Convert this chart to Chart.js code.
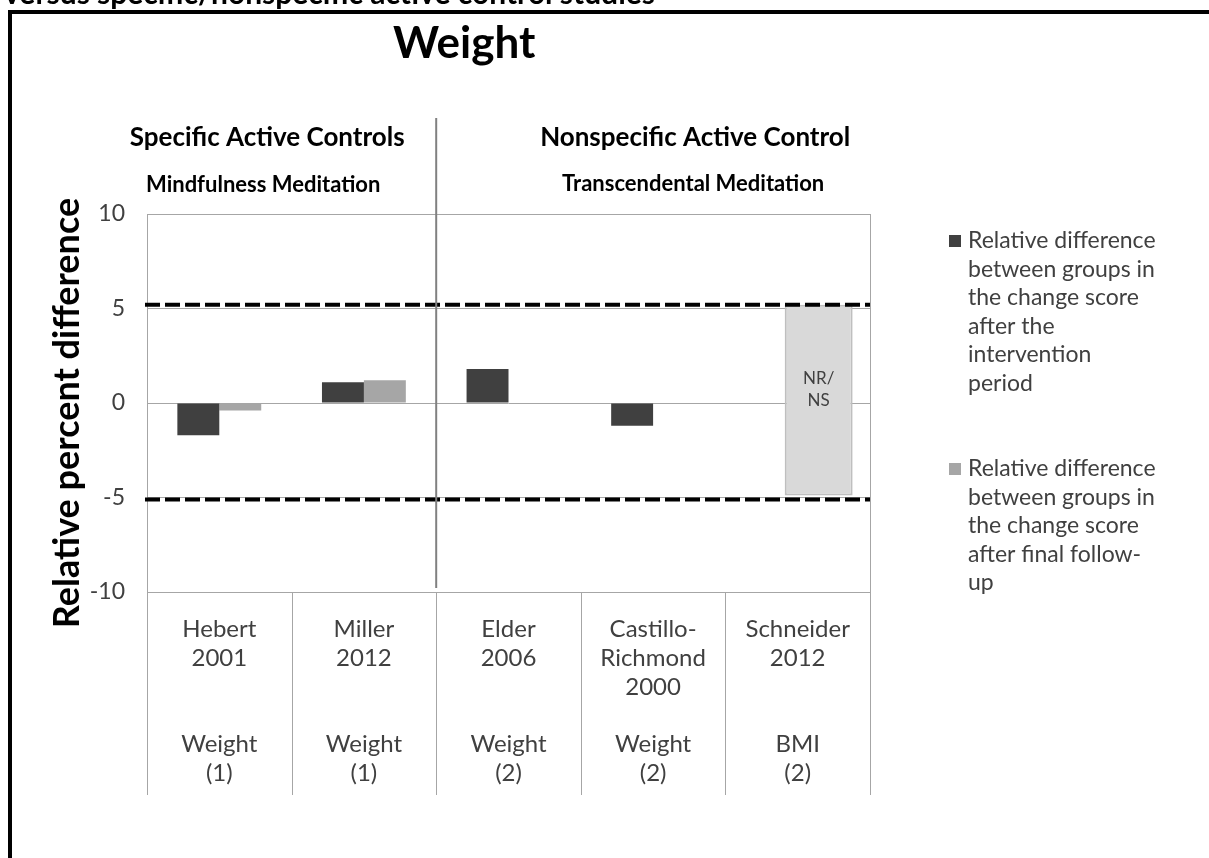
<!DOCTYPE html>
<html lang="en">
<head>
<meta charset="UTF-8">
<title>Weight</title>
<script src="https://cdn.jsdelivr.net/npm/chart.js@4.4.1/dist/chart.umd.min.js"></script>
<style>
  html, body { margin: 0; padding: 0; background: #fff; }
  #wrap { position: relative; width: 1209px; height: 858px; overflow: hidden; }
</style>
</head>
<body>
<div id="wrap"><canvas id="weightChart" width="1209" height="858"></canvas></div>
<script>
// studies (multi-line category labels)
const studies = [
  ['Hebert', '2001', '', '', 'Weight', '(1)'],
  ['Miller', '2012', '', '', 'Weight', '(1)'],
  ['Elder', '2006', '', '', 'Weight', '(2)'],
  ['Castillo-', 'Richmond', '2000', '', 'Weight', '(2)'],
  ['Schneider', '2012', '', '', 'BMI', '(2)']
];
const afterIntervention = [-1.7, 1.1, 1.8, -1.2, null];
const afterFollowUp = [-0.4, 1.2, null, null, null];
const notReported = [null, null, null, null, [-4.9, 5.2]];
const equivalenceBounds = [5.2, -5.1];
const yTicks = [-10, -5, 0, 5, 10];
const seriesNames = [
  ['Relative difference', 'between groups in', 'the change score', 'after the', 'intervention', 'period'],
  ['Relative difference', 'between groups in', 'the change score', 'after final follow-', 'up']
];
const groupTitles = ['Specific Active Controls', 'Nonspecific Active Control'];
const groupSubtitles = ['Mindfulness Meditation', 'Transcendental Meditation'];

const FONT = 'Lato, "Open Sans", sans-serif';
const TEXT_GREY = '#404040';

const decor = {
  id: 'decor',
  beforeDraw(chart) {
    const { ctx, width, height } = chart;
    ctx.save();
    ctx.fillStyle = '#fff';
    ctx.fillRect(0, 0, width, height);
    // page frame + clipped caption above it
    ctx.fillStyle = '#000';
    ctx.fillRect(8, 10, width - 8, 4);
    ctx.fillRect(8, 10, 4, height - 10);
    ctx.font = 'bold 30px ' + FONT;
    ctx.textBaseline = 'alphabetic';
    ctx.fillText('versus specific/nonspecific active control studies', 4, 4);
    ctx.restore();
  },
  afterDraw(chart) {
    const { ctx, chartArea: area, scales: { x, y } } = chart;
    const half = (x.getPixelForValue(1) - x.getPixelForValue(0)) / 2;
    const divider = (x.getPixelForValue(1) + x.getPixelForValue(2)) / 2;
    ctx.save();

    // plot frame
    ctx.strokeStyle = '#a6a6a6';
    ctx.lineWidth = 1;
    ctx.strokeRect(area.left + 0.5, area.top + 0.5, area.width, area.height);

    // category table lines under the axis
    ctx.beginPath();
    for (let i = 0; i <= studies.length; i++) {
      const px = Math.round(x.getPixelForValue(i) - half) + 0.5;
      ctx.moveTo(px, area.bottom);
      ctx.lineTo(px, area.bottom + 203);
    }
    ctx.stroke();

    // NR/NS label inside the box
    const box = chart.getDatasetMeta(2).data[4];
    ctx.fillStyle = TEXT_GREY;
    ctx.font = '17px ' + FONT;
    ctx.textAlign = 'center';
    ctx.textBaseline = 'middle';
    const cy = (box.y + box.base) / 2 - 11;
    ctx.fillText('NR/', box.x, cy - 11);
    ctx.fillText('NS', box.x, cy + 11);

    // equivalence bounds
    ctx.strokeStyle = '#000';
    ctx.lineWidth = 4;
    ctx.setLineDash([15, 5]);
    equivalenceBounds.forEach(v => {
      const py = y.getPixelForValue(v);
      ctx.beginPath();
      ctx.moveTo(area.left - 2, py);
      ctx.lineTo(area.right, py);
      ctx.stroke();
    });
    ctx.setLineDash([]);

    // divider between specific / nonspecific controls
    ctx.strokeStyle = '#808080';
    ctx.lineWidth = 2;
    ctx.beginPath();
    ctx.moveTo(divider, 118);
    ctx.lineTo(divider, area.bottom - 4);
    ctx.stroke();

    // headings
    ctx.fillStyle = '#000';
    ctx.textBaseline = 'alphabetic';
    ctx.font = 'bold 44px ' + FONT;
    ctx.fillText('Weight', divider + 28, 58);
    ctx.font = 'bold 26px ' + FONT;
    ctx.fillText(groupTitles[0], divider - 169, 146);
    ctx.fillText(groupTitles[1], divider + 259, 146);
    ctx.font = 'bold 22px ' + FONT;
    ctx.fillText(groupSubtitles[0], divider - 173, 192);
    ctx.fillText(groupSubtitles[1], divider + 257, 191);

    // y axis title
    ctx.save();
    ctx.translate(67, 413);
    ctx.rotate(-Math.PI / 2);
    ctx.textBaseline = 'middle';
    ctx.font = 'bold 36px ' + FONT;
    ctx.fillText('Relative percent difference', 0, 0);
    ctx.restore();

    // legend
    const lx = area.right + 79;
    const lineH = 28.5;
    let ly = 241;
    ctx.textAlign = 'left';
    ctx.textBaseline = 'middle';
    ctx.font = '23px ' + FONT;
    seriesNames.forEach((lines, i) => {
      ctx.fillStyle = chart.data.datasets[i].backgroundColor;
      ctx.fillRect(lx, ly - 6, 12, 12);
      ctx.fillStyle = TEXT_GREY;
      lines.forEach((t, j) => ctx.fillText(t, lx + 19, ly + j * lineH));
      ly += (lines.length + 2) * lineH;
    });
    ctx.restore();
  }
};

new Chart(document.getElementById('weightChart'), {
  type: 'bar',
  data: {
    labels: studies,
    datasets: [
      { label: seriesNames[0].join(' '), data: afterIntervention, backgroundColor: '#404040', stack: 'intervention' },
      { label: seriesNames[1].join(' '), data: afterFollowUp, backgroundColor: '#a6a6a6', stack: 'followUp' },
      {
        label: 'NR/NS', data: notReported, stack: 'followUp',
        backgroundColor: '#d9d9d9', borderColor: '#bfbfbf', borderWidth: 2,
        borderSkipped: false, barPercentage: 1.62
      }
    ]
  },
  options: {
    responsive: false,
    animation: false,
    categoryPercentage: 0.58,
    barPercentage: 1,
    layout: { padding: { top: 214, right: 339, bottom: 0, left: 0 } },
    plugins: {
      legend: { display: false },
      tooltip: { enabled: false },
      title: { display: false }
    },
    scales: {
      x: {
        grid: { display: false },
        border: { display: false },
        ticks: { color: TEXT_GREY, padding: 15, font: { family: FONT, size: 24, lineHeight: 1.2 }, maxRotation: 0 },
        afterFit: s => { s.height = 266; }
      },
      y: {
        min: -10,
        max: 10,
        afterBuildTicks: s => { s.ticks = yTicks.map(v => ({ value: v })); },
        grid: { color: '#a6a6a6', drawTicks: false },
        border: { display: false },
        ticks: { color: TEXT_GREY, padding: 22, font: { family: FONT, size: 23 } },
        afterFit: s => { s.width = 147; }
      }
    }
  },
  plugins: [decor]
});
</script>
</body>
</html>
